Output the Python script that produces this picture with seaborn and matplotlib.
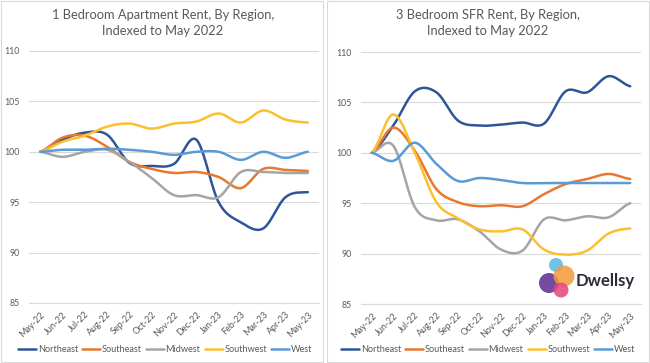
import numpy as np
import pandas as pd
import matplotlib
matplotlib.use("Agg")
import matplotlib.pyplot as plt
from matplotlib.lines import Line2D
from matplotlib.patches import Rectangle, Ellipse
import seaborn as sns

months = ["May-22", "Jun-22", "Jul-22", "Aug-22", "Sep-22", "Oct-22", "Nov-22",
          "Dec-22", "Jan-23", "Feb-23", "Mar-23", "Apr-23", "May-23"]
regions = ["Northeast", "Southeast", "Midwest", "Southwest", "West"]

# 1 Bedroom Apartment Rent (indexed to May 2022)
br1_northeast = [100, 101.2, 101.9, 101.7, 98.9, 98.6, 98.8, 101.2, 95.0, 93.0, 92.4, 95.5, 96.0]
br1_southeast = [100, 101.4, 101.6, 100.5, 99.0, 98.3, 97.9, 98.0, 97.5, 96.4, 98.3, 98.2, 98.1]
br1_midwest = [100, 99.5, 100.0, 100.2, 99.0, 97.4, 95.7, 95.7, 95.5, 98.0, 98.0, 97.9, 97.9]
br1_southwest = [100, 101.0, 101.6, 102.5, 102.8, 102.3, 102.8, 103.0, 103.8, 102.9, 104.1, 103.2, 102.9]
br1_west = [100, 100.2, 100.2, 100.3, 100.2, 100.0, 99.7, 100.0, 100.0, 99.2, 100.0, 99.4, 100.0]

# 3 Bedroom SFR Rent (indexed to May 2022)
br3_northeast = [100, 102.7, 106.1, 106.0, 103.2, 102.7, 102.8, 103.0, 102.9, 106.1, 106.0, 107.6, 106.6]
br3_southeast = [100, 102.5, 100.2, 96.4, 95.1, 94.7, 94.8, 94.7, 95.9, 96.9, 97.4, 97.9, 97.4]
br3_midwest = [100, 100.7, 94.6, 93.3, 93.4, 92.2, 90.4, 90.3, 93.4, 93.3, 93.7, 93.6, 95.0]
br3_southwest = [100, 103.8, 100.0, 95.1, 93.5, 92.4, 92.2, 92.4, 90.4, 89.9, 90.3, 92.0, 92.5]
br3_west = [100, 99.2, 101.0, 98.9, 97.2, 97.5, 97.3, 97.0, 97.0, 97.0, 97.0, 97.0, 97.0]

colors = {"Northeast": "#2F5597", "Southeast": "#E8782F", "Midwest": "#A5A5A5",
          "Southwest": "#FBC02D", "West": "#5B9BD5"}

panels = [
    ("1 Bedroom Apartment Rent, By Region,\nIndexed to May 2022",
     [br1_northeast, br1_southeast, br1_midwest, br1_southwest, br1_west]),
    ("3 Bedroom SFR Rent, By Region,\nIndexed to May 2022",
     [br3_northeast, br3_southeast, br3_midwest, br3_southwest, br3_west]),
]


def smooth(vals, n=20):
    """Catmull-Rom smoothing (like Excel 'smoothed line') for display."""
    y = np.asarray(vals, float)
    p = np.concatenate([[y[0]], y, [y[-1]]])
    xs, ys = [], []
    for i in range(len(y) - 1):
        p0, p1, p2, p3 = p[i], p[i + 1], p[i + 2], p[i + 3]
        t = np.linspace(0, 1, n, endpoint=False)
        seg = 0.5 * ((2 * p1) + (-p0 + p2) * t + (2 * p0 - 5 * p1 + 4 * p2 - p3) * t ** 2
                     + (-p0 + 3 * p1 - 3 * p2 + p3) * t ** 3)
        xs.append(i + t)
        ys.append(seg)
    xs.append([len(y) - 1])
    ys.append([y[-1]])
    return np.concatenate(xs), np.concatenate(ys)


sns.set_theme(style="white")
plt.rcParams["font.family"] = ["Lato", "DejaVu Sans"]

W, H = 650, 363
fig = plt.figure(figsize=(W / 100, H / 100), dpi=100)

# panel frames
for x0, x1 in [(1, 323), (327, 649)]:
    fig.patches.append(Rectangle((x0 / W, 1 / H), (x1 - x0) / W, (H - 2) / H,
                                 transform=fig.transFigure, fill=False,
                                 edgecolor="#D9D9D9", linewidth=0.8))

ax_boxes = [(29, 319, 51, 303), (361, 641, 52, 304)]
title_x = [163, 488]
legend_x = [165, 488]
text_col = "#595959"

for k, (title, series) in enumerate(panels):
    l, r, t, b = ax_boxes[k]
    ax = fig.add_axes([l / W, 1 - b / H, (r - l) / W, (b - t) / H])
    rows = []
    for reg, vals in zip(regions, series):
        xs, ys = smooth(vals)
        rows.append(pd.DataFrame({"x": xs, "value": ys, "region": reg}))
    df = pd.concat(rows, ignore_index=True)
    sns.lineplot(data=df, x="x", y="value", hue="region", palette=colors,
                 estimator=None, sort=False, legend=False, linewidth=1.8, ax=ax)
    ax.set_xlim(-0.5, len(months) - 0.5)
    ax.set_ylim(85, 110)
    ax.set_yticks([85, 90, 95, 100, 105, 110])
    ax.set_yticklabels(["85", "90", "95", "100", "105", "110"])
    ax.set_xticks(range(len(months)))
    ax.set_xticklabels(months, rotation=45, ha="right", rotation_mode="anchor")
    ax.set_xticks(np.arange(-0.5, len(months), 1.0), minor=True)
    ax.tick_params(axis="y", length=0, labelsize=6.3, labelcolor=text_col, pad=7)
    ax.tick_params(axis="x", which="major", length=0, labelsize=6.5, labelcolor=text_col, pad=5)
    ax.tick_params(axis="x", which="minor", length=4, color="#D9D9D9", width=0.8)
    ax.grid(axis="y", color="#D9D9D9", linewidth=0.8)
    ax.grid(axis="x", visible=False)
    for s in ["top", "right", "left"]:
        ax.spines[s].set_visible(False)
    ax.spines["bottom"].set_color("#D9D9D9")
    ax.spines["bottom"].set_linewidth(0.8)
    ax.set_xlabel("")
    ax.set_ylabel("")
    ax.set_axisbelow(True)

    fig.text(title_x[k] / W, 1 - 23 / H, title, ha="center", va="center",
             fontsize=9.3, color=text_col, linespacing=1.45)

    handles = [Line2D([0], [0], color=colors[rg], lw=1.8) for rg in regions]
    fig.legend(handles, regions, loc="center", bbox_to_anchor=(legend_x[k] / W, 1 - 350 / H),
               ncol=5, frameon=False, fontsize=6.6, handlelength=2.0, handletextpad=0.15,
               columnspacing=0.45, labelcolor=text_col, borderaxespad=0, borderpad=0)

# Dwellsy logo (decoration)
logo = [(556, 265, 7, "#55B9E6"), (549, 283, 10, "#5B2C91"), (564, 276, 10.5, "#F39A3C"),
        (561, 290, 7.5, "#E5457A")]
for cx, cy, rr, col in logo:
    fig.patches.append(Ellipse((cx / W, 1 - cy / H), 2 * rr / W, 2 * rr / H,
                               transform=fig.transFigure, facecolor=col,
                               edgecolor="none", alpha=0.85))
fig.text(576 / W, 1 - 281 / H, "Dwellsy", ha="left", va="center", fontsize=12,
         fontweight="bold", color="#2B2B3A")

fig.savefig("out.png", dpi=100)
